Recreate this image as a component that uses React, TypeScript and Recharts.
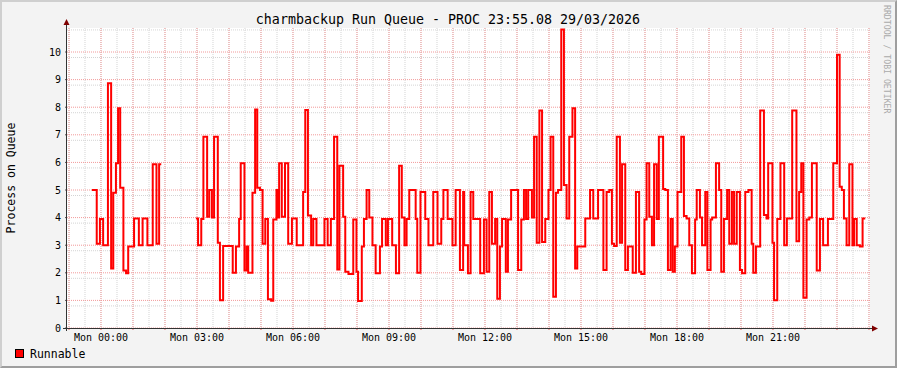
import React from 'react';
import { LineChart, Line, XAxis, YAxis, CartesianGrid } from 'recharts';

// minutes relative to Mon 00:00, value holds until the next entry
const minutes = [
  -17, -8, -2, 4, 13, 19, 23, 28, 32, 36, 42, 47, 51, 62, 71, 78, 87, 97, 104, 109, 113, 114,
  178, 182, 188, 192, 199, 203, 208, 212, 219, 223, 229, 247, 253, 259, 262, 269, 273, 276,
  284, 289, 293, 298, 303, 308, 313, 319, 323, 329, 332, 334, 339, 345, 351, 358, 367, 379,
  383, 388, 394, 398, 404, 419, 425, 431, 437, 443, 447, 454, 458, 464, 473, 479, 482, 489,
  493, 498, 503, 509, 515, 523, 527, 534, 538, 546, 553, 559, 564, 569, 573, 578, 590, 593,
  599, 608, 614, 623, 631, 638, 642, 650, 659, 665, 673, 679, 681, 688, 693, 698, 711, 718,
  723, 728, 733, 739, 743, 748, 752, 759, 763, 769, 782, 788, 793, 797, 801, 808, 812, 817,
  822, 827, 833, 839, 843, 848, 853, 857, 863, 868, 873, 878, 884, 889, 893, 908, 917, 923,
  932, 942, 948, 953, 958, 962, 967, 973, 977, 983, 988, 997, 1003, 1009, 1013, 1019, 1023,
  1028, 1033, 1037, 1042, 1046, 1054, 1058, 1063, 1068, 1072, 1076, 1081, 1088, 1093, 1098,
  1103, 1108, 1114, 1117, 1123, 1127, 1133, 1137, 1143, 1146, 1153, 1159, 1163, 1168, 1174,
  1178, 1183, 1187, 1192, 1198, 1202, 1208, 1214, 1220, 1223, 1228, 1236, 1243, 1248, 1251,
  1259, 1262, 1268, 1274, 1281, 1286, 1296, 1304, 1309, 1313, 1317, 1323, 1328, 1333, 1342,
  1348, 1354, 1363, 1373, 1380, 1385, 1389, 1393, 1398, 1403, 1409, 1412, 1417, 1423, 1428, 1433,
];

const runnable: (number | null)[] = [
  5.0, 3.05, 3.95, 3.0, 8.87, 2.16, 4.9, 5.97, 7.96, 5.08, 2.08, 1.98, 2.95, 3.97, 3.0, 3.97, 3.0, 5.93, 3.05, 5.93, 5.93, null,
  3.97, 3.0, 3.95, 6.93, 4.03, 5.0, 4.0, 6.93, 3.09, 1.01, 2.97, 2.0, 2.95, 3.95, 5.97, 2.08, 2.95, 2.0,
  4.9, 7.92, 5.08, 5.0, 3.05, 3.95, 1.04, 0.99, 3.93, 5.0, 4.0, 5.97, 4.03, 5.97, 3.05, 3.97, 3.0, 4.93,
  7.9, 4.08, 3.0, 3.95, 3.0, 3.95, 3.0, 3.95, 6.93, 2.12, 5.88, 4.03, 2.04, 1.96, 3.93, 2.04, 0.98, 2.95,
  3.95, 5.0, 4.0, 3.0, 1.98, 2.95, 3.95, 3.0, 3.95, 3.0, 1.98, 5.88, 4.0, 3.0, 3.95, 5.0, 3.95, 2.0,
  4.93, 3.95, 3.0, 4.93, 3.05, 3.95, 5.0, 3.95, 3.0, 5.0, 2.1, 4.93, 3.0, 1.98, 4.93, 3.95, 1.98, 3.93,
  2.04, 4.93, 3.05, 3.95, 1.06, 2.95, 3.95, 2.04, 3.93, 5.0, 2.1, 3.93, 5.0, 3.95, 5.0, 4.0, 6.93, 3.09,
  7.88, 3.12, 3.95, 5.0, 6.93, 1.13, 4.9, 5.0, 10.82, 5.18, 3.97, 6.93, 7.96, 2.16, 2.95, 3.97, 5.0, 3.97,
  5.0, 2.1, 4.93, 5.0, 3.05, 2.97, 6.93, 3.09, 5.93, 2.1, 2.95, 2.0, 4.93, 2.04, 1.96, 3.93, 5.97,
  4.03, 3.0, 5.93, 3.95, 6.93, 5.04, 5.0, 2.1, 3.95, 2.04, 2.95, 4.93, 6.93, 4.06, 3.97,
  3.0, 1.98, 3.93, 5.0, 4.0, 3.0, 4.93, 2.1, 3.93, 4.0, 5.97, 5.0, 2.04, 3.95, 5.0,
  3.05, 4.93, 3.05, 4.93, 2.1, 1.98, 4.93, 5.0, 3.05, 2.0, 2.95, 7.88, 4.09, 3.97, 5.97,
  3.09, 1.01, 3.95, 5.97, 3.0, 3.97, 7.88, 3.14, 4.93, 5.97, 1.1, 3.93, 4.0, 5.97, 2.08,
  3.95, 3.0, 3.95, 5.97, 9.9, 5.12, 5.0, 3.97, 3.0, 5.93, 3.0, 3.95, 3.0, 2.95, 3.97, 3.97,
];

const yTicks = [0, 1, 2, 3, 4, 5, 6, 7, 8, 9, 10];
const hourTicks = Array.from({ length: 26 }, (_, i) => (i - 1) * 60);
const labelHours = [0, 180, 360, 540, 720, 900, 1080, 1260];
const minorY = Array.from({ length: 55 }, (_, i) => Math.round(i * 2) / 10);
const minorX = Array.from({ length: 51 }, (_, i) => (i - 2) * 30);

const FONT = '"DejaVu Sans Mono", monospace';

const data = minutes.map((m, i) => ({ m, v: runnable[i] }));

function fmtTick(m: number) {
  if (!labelHours.includes(m)) return '';
  const h = Math.floor(m / 60);
  return `Mon ${String(h).padStart(2, '0')}:00`;
}

export default function App() {
  return (
    <div
      style={{
        position: 'absolute', left: 0, top: 0, width: 897, height: 368,
        background: '#f3f3f3', boxSizing: 'border-box',
        borderTop: '2px solid #cfcfcf', borderLeft: '2px solid #cfcfcf',
        borderRight: '2px solid #9e9e9e', borderBottom: '2px solid #9e9e9e',
      }}
    >
      <div style={{ position: 'absolute', left: -2, top: -2 }}>
        <LineChart width={897} height={368} data={data} margin={{ top: 28, right: 27, bottom: 20, left: 27 }}>
          <CartesianGrid fill="#ffffff" stroke="#d4d4d4" strokeDasharray="1 1"
            horizontalValues={minorY} verticalValues={minorX} />
          <CartesianGrid stroke="#f29a9a" strokeDasharray="1 1"
            horizontalValues={yTicks} verticalValues={hourTicks} />
          <XAxis type="number" dataKey="m" domain={[-63.75, 1441.9]} allowDataOverflow
            ticks={hourTicks} tickFormatter={fmtTick} interval={0} height={20}
            axisLine={false} tickSize={2} tickMargin={4} tickLine={{ stroke: '#e06666' }}
            tick={{ fontSize: 10, fill: '#000', fontFamily: FONT }} />
          <YAxis type="number" domain={[0, 10.87]} allowDataOverflow ticks={yTicks} width={40}
            axisLine={false} tickSize={2} tickMargin={4} tickLine={{ stroke: '#555' }}
            tick={{ fontSize: 10, fill: '#000', fontFamily: FONT }} />
          <Line dataKey="v" type="stepAfter" stroke="#ff0000" strokeWidth={2} dot={false}
            activeDot={false} connectNulls={false} isAnimationActive={false} />
        </LineChart>
      </div>
      <svg width={897} height={368} style={{ position: 'absolute', left: -2, top: -2, pointerEvents: 'none' }}>
        <line x1={66.5} y1={331} x2={66.5} y2={24} stroke="#333" strokeWidth={1} />
        <line x1={63} y1={328.5} x2={872} y2={328.5} stroke="#333" strokeWidth={1} />
        <polygon points="66.5,19 63.5,25 69.5,25" fill="#7f0000" />
        <polygon points="878,328.5 872,325.5 872,331.5" fill="#7f0000" />
        <text x={448} y={24} textAnchor="middle" fontFamily={FONT} fontSize={13.3} fill="#000">
          charmbackup Run Queue - PROC 23:55.08 29/03/2026
        </text>
        <text x={15} y={178} textAnchor="middle" fontFamily={FONT} fontSize={11.5} fill="#000"
          transform="rotate(-90 15 178)">
          Process on Queue
        </text>
        <text x={883.5} y={5} fontFamily={FONT} fontSize={8.2} fill="#aaaaaa"
          transform="rotate(90 883.5 5)">
          RRDTOOL / TOBI OETIKER
        </text>
        <rect x={15.5} y={349.5} width={8} height={8} fill="#ff0000" stroke="#000" />
        <text x={30} y={358} fontFamily={FONT} fontSize={11.5} fill="#000">Runnable</text>
      </svg>
    </div>
  );
}
